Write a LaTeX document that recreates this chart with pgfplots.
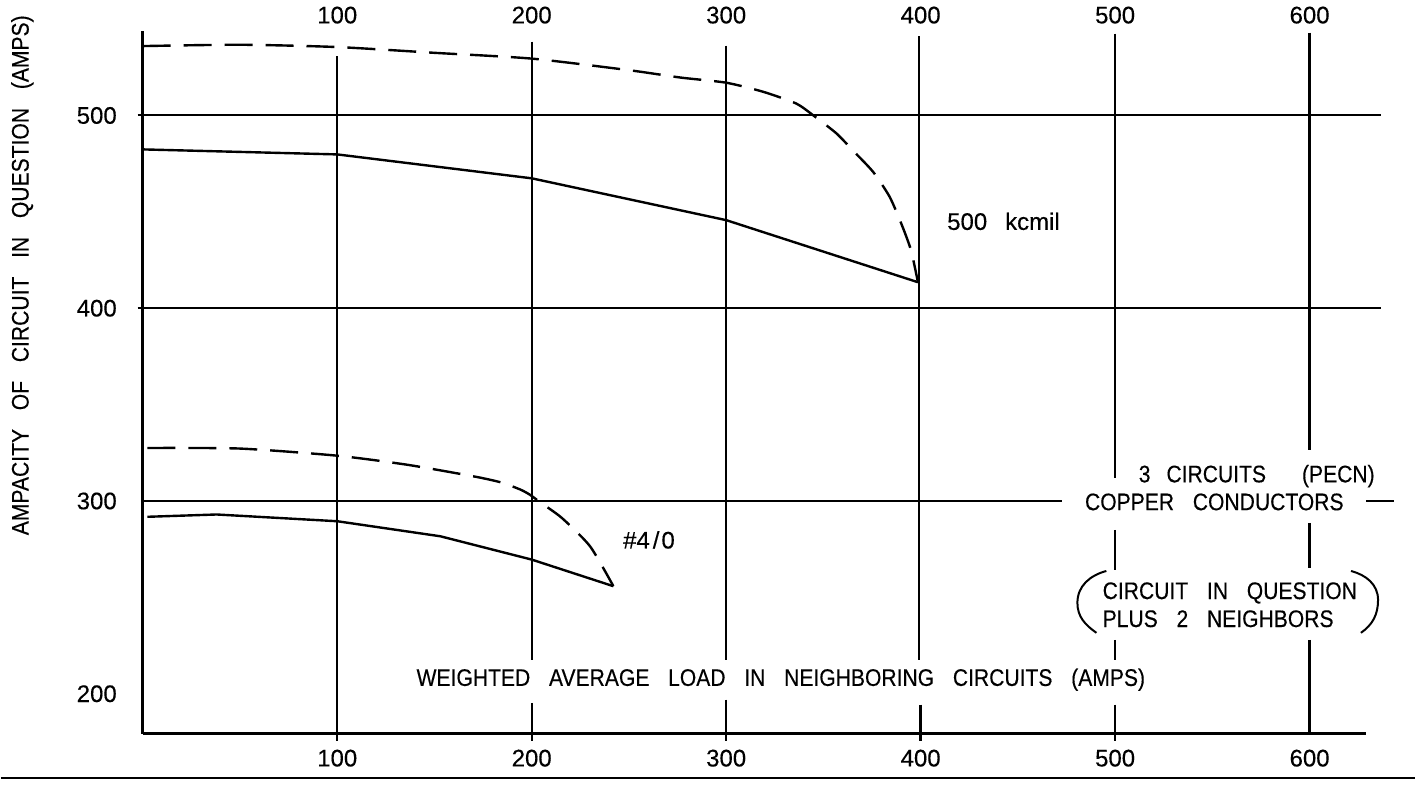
\documentclass[border=0pt]{standalone}
\usepackage{pgfplots}
\pgfplotsset{compat=1.18}
\usepackage{fontspec}
\setmainfont{Liberation Sans}
\newfontfamily\cad[FakeStretch=0.88,WordSpace=3.2,FakeBold=0.3]{Liberation Sans}
\newfontfamily\cadn[FakeBold=0.3]{Liberation Sans}
\newcommand{\lab}{\cad\fontsize{12}{13}\selectfont}
\newcommand{\num}{\cadn\fontsize{12}{13}\selectfont}
\begin{document}
\begin{tikzpicture}
\pgfplotstableread{
x y
0 536
50 536.7
100 535.5
150 532.5
200 529.5
250 523.5
276.3 519.7
300 517
319 512.3
336 506.2
344.6 500.2
356.7 490.7
365 482
375.5 470.8
384 457.9
390 444
395 430.2
398.6 413.5
}\kcmilhot
\pgfplotstableread{
x y
0 482.4
100 479.8
200 467.4
300 445.7
398.6 413.5
}\kcmil
\pgfplotstableread{
x y
2.4 327.5
50 327.2
100 323.5
136 318.8
170 312.8
184 309.7
194 306
199 303.3
204.4 299.3
215.5 291.2
230 276.5
242 255.8
}\fourhot
\pgfplotstableread{
x y
2.4 291.8
38 293
100 289.5
153 281.7
200 269.6
242 255.8
}\four
\begin{axis}[
  scale only axis, width=612.5pt, height=352pt,
  xmin=0, xmax=629, ymin=179.3, ymax=544,
  axis x line*=bottom, axis y line*=left,
  axis line style={line width=1.3pt,-},
  xtick={100,200,300,400,500,600},
  ytick={200,300,400,500},
  major tick length=0pt,
  /pgf/number format/assume math mode=true,
  ticklabel style={font=\num},
  xticklabel style={yshift=-4.5pt},
  yticklabel style={xshift=-9.5pt},
  clip=false,
]
% invisible bounding box matching the reference canvas
\path (axis cs:-72.9,558) rectangle (axis cs:654.2,152.85);
% bottom border line of the scan
\draw[line width=1pt] (axis cs:-72.9,156.5) -- (axis cs:654.2,156.5);
% horizontal grid lines
\draw[line width=1pt] (axis cs:-2.6,500) -- (axis cs:636.7,500);
\draw[line width=1.1pt] (axis cs:-2.6,400) -- (axis cs:636.7,400);
\draw[line width=1pt] (axis cs:0,300) -- (axis cs:472.9,300);
\draw[line width=1pt] (axis cs:629.2,300) -- (axis cs:643.4,300);
% vertical grid lines (with the gaps of the drawing)
\draw[line width=1.2pt] (axis cs:100,175.6) -- (axis cs:100,531);
\draw[line width=1.2pt] (axis cs:200,538.3) -- (axis cs:200,217.6) (axis cs:200,195.3) -- (axis cs:200,175.6);
\draw[line width=1.2pt] (axis cs:300,536.3) -- (axis cs:300,217.6) (axis cs:300,196.9) -- (axis cs:300,175.6);
\draw[line width=1.2pt] (axis cs:399,541) -- (axis cs:399,217.6) (axis cs:400,194.3) -- (axis cs:400,175.6);
\draw[line width=1.2pt] (axis cs:500,542.5) -- (axis cs:500,311.9) (axis cs:500,285) -- (axis cs:500,264.2) (axis cs:500,228) -- (axis cs:500,217.6) (axis cs:500,194.3) -- (axis cs:500,175.6);
\draw[line width=1.2pt] (axis cs:600,543) -- (axis cs:600,326.4) (axis cs:600,288.6) -- (axis cs:600,265.3) (axis cs:600,228) -- (axis cs:600,179.3);
% curves
\addplot[black, line width=1.2pt, dash pattern=on 14pt off 6.5pt, smooth, tension=0.4] table {\kcmilhot};
\addplot[black, line width=1.2pt] table {\kcmil};
\addplot[black, line width=1.2pt, dash pattern=on 14pt off 6.5pt, smooth, tension=0.4] table {\fourhot};
\addplot[black, line width=1.2pt] table {\four};
% labels
\node[font=\num] at (axis cs:442.6,445.1) {500\hspace{9pt}kcmil};
\node[font=\num] at (axis cs:260.3,279.8) {\#4\kern1.5pt/\kern1pt0};
\node[font=\lab] at (axis cs:328.1,207.3) {WEIGHTED AVERAGE LOAD IN NEIGHBORING CIRCUITS (AMPS)};
\node[font=\lab] at (axis cs:572.8,312.9) {3\hspace{8pt}CIRCUITS\hspace{18pt}(PECN)};
\node[font=\lab] at (axis cs:551,299.5) {COPPER CONDUCTORS};
\node[font=\lab, anchor=west, inner sep=0pt] at (axis cs:493.4,252.3) {CIRCUIT IN QUESTION};
\node[font=\lab, anchor=west, inner sep=0pt] at (axis cs:493.4,238.9) {PLUS 2 NEIGHBORS};
% parentheses
\draw[line width=1pt] (axis cs:495.5,263.7) to[out=195,in=90] (axis cs:480.6,247.2) to[out=-90,in=145] (axis cs:490.4,231.6);
\draw[line width=1pt] (axis cs:621.3,263.7) to[out=-15,in=90] (axis cs:635.2,248.7) to[out=-90,in=35] (axis cs:626.4,231.6);
% y axis label
\node[font=\lab, rotate=90] at (axis cs:-61.9,417.1) {AMPACITY OF CIRCUIT IN QUESTION (AMPS)};
\end{axis}
\begin{axis}[
  scale only axis, width=612.5pt, height=352pt,
  xmin=0, xmax=629, ymin=179.3, ymax=544,
  axis x line*=top, axis y line=none,
  axis line style={draw=none},
  xtick={100,200,300,400,500,600},
  major tick length=0pt,
  /pgf/number format/assume math mode=true,
  ticklabel style={font=\num},
]
\end{axis}
\end{tikzpicture}
\end{document}
